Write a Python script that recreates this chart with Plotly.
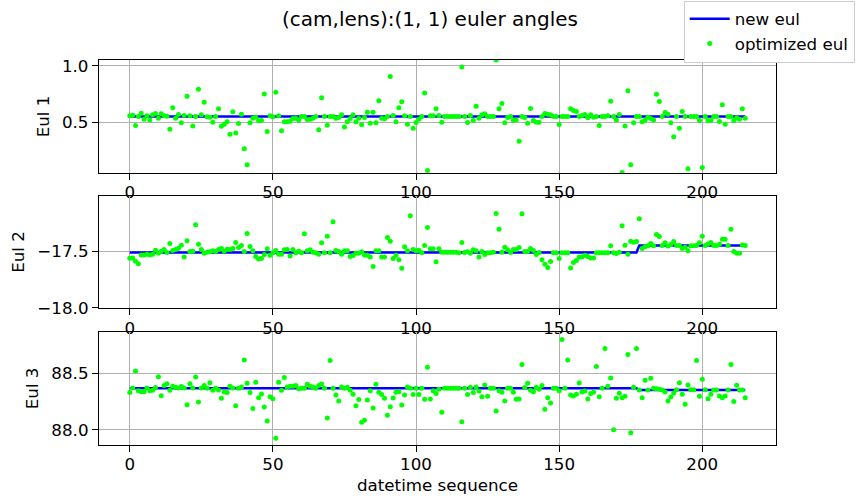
import plotly.graph_objects as go

# ---------------- data ----------------
x_ticks = [0, 50, 100, 150, 200]

eul1_opt = [
    0.559, 0.565, 0.473, 0.553, 0.582, 0.529, 0.559, 0.523, 0.568, 0.580,
    0.538, 0.577, 0.559, 0.556, 0.441, 0.630, 0.538, 0.571, 0.497, 0.562,
    0.733, 0.559, 0.470, 0.553, 0.795, 0.568, 0.680, 0.550, 0.547, 0.503,
    0.553, 0.621, 0.467, 0.485, 0.506, 0.397, 0.594, 0.406, 0.491, 0.574,
    0.267, 0.126, 0.497, 0.538, 0.547, 0.515, 0.518, 0.753, 0.420, 0.559,
    0.550, 0.768, 0.559, 0.426, 0.506, 0.506, 0.512, 0.535, 0.538, 0.520,
    0.553, 0.553, 0.526, 0.529, 0.538, 0.553, 0.435, 0.718, 0.553, 0.476,
    0.553, 0.553, 0.538, 0.544, 0.568, 0.459, 0.506, 0.535, 0.568, 0.506,
    0.538, 0.479, 0.544, 0.591, 0.494, 0.591, 0.497, 0.692, 0.538, 0.532,
    0.553, 0.907, 0.562, 0.506, 0.630, 0.683, 0.559, 0.485, 0.553, 0.450,
    0.500, 0.529, 0.553, 0.762, 0.076, 0.559, 0.559, 0.621, 0.562, 0.503,
    0.553, 0.553, 0.553, 0.553, 0.553, 0.553, 0.990, 0.553, 0.500, 0.562,
    0.518, 0.644, 0.538, 0.568, 0.577, 0.553, 0.553, 0.553, 1.052, 0.621,
    0.668, 0.497, 0.544, 0.553, 0.518, 0.523, 0.335, 0.553, 0.544, 0.494,
    0.624, 0.518, 0.503, 0.503, 0.553, 0.580, 0.574, 0.568, 0.553, 0.553,
    0.482, 0.553, 0.553, 0.553, 0.621, 0.606, 0.597, 0.553, 0.562, 0.571,
    0.541, 0.568, 0.547, 0.553, 0.473, 0.553, 0.553, 0.559, 0.689, 0.553,
    0.523, 0.571, 0.058, 0.470, 0.780, 0.126, 0.497, 0.553, 0.553, 0.506,
    0.520, 0.547, 0.535, 0.523, 0.750, 0.686, 0.553, 0.589, 0.574, 0.497,
    0.373, 0.553, 0.450, 0.597, 0.553, 0.090, 0.553, 0.553, 0.553, 0.518,
    0.102, 0.553, 0.518, 0.518, 0.553, 0.553, 0.509, 0.656, 0.485, 0.553,
    0.553, 0.518, 0.541, 0.529, 0.621, 0.538,
]

eul2_opt = [
    -17.560, -17.557, -17.586, -17.610, -17.530, -17.530, -17.524, -17.530, -17.524, -17.488,
    -17.515, -17.497, -17.482, -17.509, -17.429, -17.491, -17.482, -17.470, -17.444, -17.548,
    -17.405, -17.500, -17.497, -17.262, -17.435, -17.482, -17.515, -17.506, -17.503, -17.494,
    -17.500, -17.482, -17.473, -17.497, -17.479, -17.482, -17.473, -17.420, -17.464, -17.447,
    -17.500, -17.339, -17.455, -17.494, -17.545, -17.566, -17.563, -17.527, -17.476, -17.533,
    -17.512, -17.491, -17.524, -17.524, -17.485, -17.482, -17.539, -17.482, -17.512, -17.497,
    -17.510, -17.342, -17.494, -17.485, -17.506, -17.510, -17.524, -17.423, -17.510, -17.363,
    -17.510, -17.235, -17.491, -17.500, -17.524, -17.494, -17.494, -17.545, -17.536, -17.515,
    -17.515, -17.503, -17.530, -17.533, -17.548, -17.634, -17.494, -17.494, -17.548, -17.548,
    -17.375, -17.408, -17.563, -17.533, -17.574, -17.649, -17.458, -17.494, -17.182, -17.482,
    -17.494, -17.488, -17.510, -17.447, -17.286, -17.476, -17.476, -17.592, -17.476, -17.506,
    -17.506, -17.506, -17.506, -17.506, -17.506, -17.510, -17.420, -17.509, -17.503, -17.515,
    -17.485, -17.494, -17.548, -17.500, -17.527, -17.512, -17.510, -17.506, -17.161, -17.301,
    -17.506, -17.461, -17.485, -17.509, -17.482, -17.482, -17.464, -17.164, -17.500, -17.500,
    -17.473, -17.491, -17.527, -17.509, -17.574, -17.613, -17.643, -17.589, -17.510, -17.510,
    -17.563, -17.510, -17.512, -17.510, -17.646, -17.598, -17.580, -17.548, -17.548, -17.533,
    -17.545, -17.557, -17.557, -17.510, -17.510, -17.510, -17.510, -17.512, -17.449, -17.510,
    -17.518, -17.506, -17.271, -17.444, -17.524, -17.408, -17.417, -17.411, -17.208, -17.473,
    -17.458, -17.449, -17.429, -17.449, -17.348, -17.366, -17.446, -17.423, -17.452, -17.438,
    -17.411, -17.446, -17.446, -17.473, -17.461, -17.494, -17.449, -17.449, -17.446, -17.423,
    -17.363, -17.446, -17.432, -17.420, -17.446, -17.446, -17.435, -17.390, -17.390, -17.446,
    -17.301, -17.500, -17.515, -17.515, -17.441, -17.446,
]

eul3_opt = [
    88.329, 88.370, 88.521, 88.346, 88.337, 88.337, 88.370, 88.346, 88.349, 88.373,
    88.470, 88.302, 88.391, 88.408, 88.349, 88.385, 88.376, 88.370, 88.382, 88.370,
    88.222, 88.408, 88.370, 88.467, 88.246, 88.370, 88.391, 88.367, 88.417, 88.349,
    88.367, 88.352, 88.278, 88.334, 88.329, 88.385, 88.370, 88.213, 88.367, 88.379,
    88.618, 88.411, 88.329, 88.187, 88.420, 88.284, 88.317, 88.202, 88.077, 88.293,
    88.275, 87.924, 88.420, 88.349, 88.462, 88.379, 88.385, 88.385, 88.391, 88.364,
    88.367, 88.367, 88.402, 88.385, 88.379, 88.367, 88.391, 88.405, 88.367, 88.104,
    88.612, 88.367, 88.308, 88.255, 88.379, 88.367, 88.376, 88.349, 88.314, 88.213,
    88.267, 88.066, 88.083, 88.264, 88.346, 88.193, 88.402, 88.332, 88.311, 88.278,
    88.128, 88.204, 88.281, 88.332, 88.337, 88.219, 88.308, 88.379, 88.367, 88.311,
    88.367, 88.311, 88.367, 88.269, 88.553, 88.272, 88.346, 88.320, 88.358, 88.154,
    88.367, 88.367, 88.367, 88.367, 88.367, 88.367, 88.071, 88.367, 88.311, 88.376,
    88.329, 88.379, 88.343, 88.293, 88.397, 88.296, 88.367, 88.367, 88.166, 88.346,
    88.332, 88.255, 88.367, 88.367, 88.332, 88.269, 88.272, 88.577, 88.373, 88.411,
    88.349, 88.337, 88.376, 88.358, 88.391, 88.181, 88.284, 88.237, 88.367, 88.367,
    88.346, 88.798, 88.367, 88.618, 88.308, 88.299, 88.314, 88.414, 88.334, 88.343,
    88.272, 88.320, 88.332, 88.559, 88.293, 88.367, 88.719, 88.385, 88.459, 88.001,
    88.278, 88.323, 88.284, 88.296, 88.665, 87.974, 88.376, 88.719, 88.352, 88.284,
    88.438, 88.352, 88.456, 88.367, 88.364, 88.358, 88.352, 88.334, 88.255, 88.290,
    88.326, 88.355, 88.417, 88.314, 88.225, 88.397, 88.355, 88.355, 88.612, 88.296,
    88.447, 88.355, 88.275, 88.314, 88.352, 88.352, 88.299, 88.284, 88.299, 88.352,
    88.577, 88.249, 88.394, 88.352, 88.352, 88.284,
]

seq = list(range(len(eul1_opt)))

# new eul (piecewise constant): change points
new_eul_idx = [0, 177, 178, 215]
new_eul1 = [0.553, 0.553, 0.553, 0.553]
new_eul2 = [-17.509, -17.509, -17.446, -17.446]
new_eul3 = [88.367, 88.367, 88.352, 88.352]

y_titles = ["Eul 1", "Eul 2", "Eul 3"]
y_ranges = [[0.053, 1.053], [-18.006, -17.003], [87.865, 88.868]]
y_tickvals = [[0.5, 1.0], [-18.0, -17.5], [88.0, 88.5]]
y_ticktext = [["0.5", "1.0"], ["\u221218.0", "\u221217.5"], ["88.0", "88.5"]]

# ---------------- figure ----------------
FONT = "DejaVu Sans"
FS = 16.7
fig = go.Figure()

opt_series = [eul1_opt, eul2_opt, eul3_opt]
new_series = [new_eul1, new_eul2, new_eul3]
domains = [[0.7065, 1.0], [0.355, 0.6475], [0.0, 0.2943]]

for i in range(3):
    xa = "x" if i == 0 else f"x{i+1}"
    ya = "y" if i == 0 else f"y{i+1}"
    fig.add_trace(go.Scatter(
        x=new_eul_idx, y=new_series[i], mode="lines",
        line=dict(color="#0000ff", width=2.5),
        name="new eul", showlegend=(i == 0), legendrank=1,
        xaxis=xa, yaxis=ya, hoverinfo="skip"))
    fig.add_trace(go.Scatter(
        x=seq, y=opt_series[i], mode="markers",
        marker=dict(color="#00ff00", size=5, line=dict(width=0)),
        name="optimized eul", showlegend=(i == 0), legendrank=2,
        xaxis=xa, yaxis=ya))

axis_common = dict(
    showline=True, mirror=True, linecolor="black", linewidth=1.3,
    ticks="outside", ticklen=6, tickwidth=1.3, tickcolor="black",
    showgrid=True, gridcolor="#b0b0b0", gridwidth=1.3, zeroline=False,
    tickfont=dict(family=FONT, size=FS, color="black"),
)

layout_axes = {}
for i in range(3):
    xk = "xaxis" if i == 0 else f"xaxis{i+1}"
    yk = "yaxis" if i == 0 else f"yaxis{i+1}"
    ya = "y" if i == 0 else f"y{i+1}"
    xa = "x" if i == 0 else f"x{i+1}"
    xd = dict(axis_common, range=[-10.75, 225.75], tickvals=x_ticks,
              anchor=ya, domain=[0, 1], ticklabelstandoff=-2)
    if i == 2:
        xd["title"] = dict(text="datetime sequence",
                           font=dict(family=FONT, size=FS, color="black"),
                           standoff=6)
    layout_axes[xk] = xd
    layout_axes[yk] = dict(axis_common, range=y_ranges[i],
                           tickvals=y_tickvals[i], ticktext=y_ticktext[i],
                           anchor=xa, domain=domains[i],
                           title=dict(text=y_titles[i],
                                      font=dict(family=FONT, size=FS, color="black"),
                                      standoff=8))

fig.update_layout(
    width=860, height=503,
    margin=dict(l=99, r=84, t=60, b=58, autoexpand=False),
    paper_bgcolor="white", plot_bgcolor="white",
    font=dict(family=FONT, size=FS, color="black"),
    title=dict(text="(cam,lens):(1, 1) euler angles",
               x=0.5, xref="container", xanchor="center",
               y=0.962, yref="container", yanchor="middle",
               font=dict(family=FONT, size=20, color="black")),
    legend=dict(x=0.795, xref="container", xanchor="left",
                y=0.999, yref="container", yanchor="top",
                bgcolor="white", bordercolor="#cccccc", borderwidth=1,
                font=dict(family=FONT, size=FS, color="black"),
                tracegroupgap=0, itemwidth=40),
    showlegend=True,
    **layout_axes,
)

fig.write_html("out.html")
